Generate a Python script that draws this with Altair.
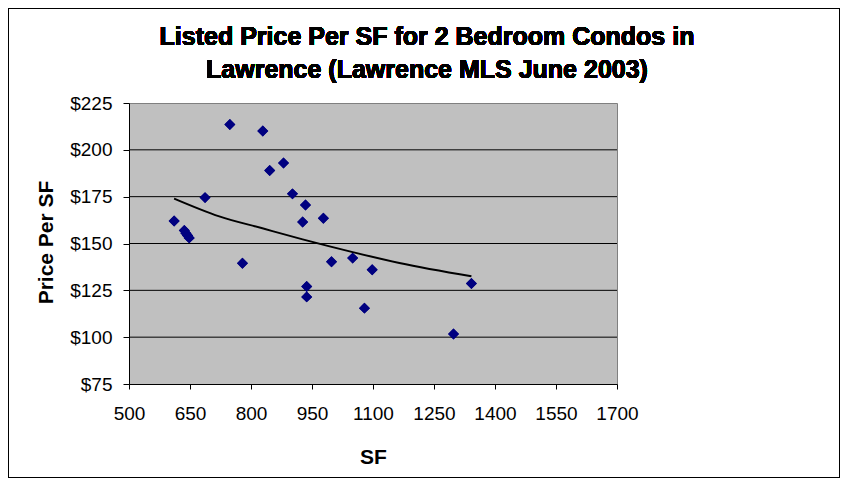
import altair as alt
import pandas as pd

# ---- data ----
sf = [611, 636, 640, 644, 648, 687, 748, 779, 829, 846, 880, 902, 934, 927,
      937, 937, 978, 998, 1050, 1079, 1098, 1298, 1342]
price = [162.0, 157.0, 155.5, 154.3, 153.0, 174.5, 213.5, 139.5, 210.0, 189.0,
         193.0, 176.5, 170.5, 161.5, 127.0, 121.5, 163.5, 140.3, 142.2, 115.5,
         136.0, 101.7, 128.6]

# trendline (as drawn in the reference)
trend_sf = [611, 722, 828, 927, 1050, 1165, 1342]
trend_price = [174.0, 164.5, 158.1, 152.2, 145.4, 139.6, 132.5]

x_ticks = [500, 650, 800, 950, 1100, 1250, 1400, 1550, 1700]
y_ticks = [75, 100, 125, 150, 175, 200, 225]
grid_vals = [100, 125, 150, 175, 200]

title_lines = ["Listed Price Per SF for 2 Bedroom Condos in",
               "Lawrence (Lawrence MLS June 2003)"]
x_title = "SF"
y_title = "Price Per SF"

FONT = "Liberation Sans"
W, H = 488, 281

pts = pd.DataFrame({"SF": sf, "Price": price})
tr = pd.DataFrame({"SF": trend_sf, "Price": trend_price})
gr = pd.DataFrame({"SF": [x_ticks[0]] * len(grid_vals), "Price": grid_vals})

xs = alt.Scale(domain=[x_ticks[0], x_ticks[-1]], nice=False, zero=False)
ys = alt.Scale(domain=[y_ticks[0], y_ticks[-1]], nice=False, zero=False)

x_axis = alt.Axis(values=x_ticks, title=x_title, grid=False, format="d",
                  labelFontSize=19, labelColor="black", labelPadding=15,
                  labelFlush=False, labelOverlap=False,
                  tickColor="black", tickSize=5, domainColor="black",
                  titleFontSize=21, titleFontWeight="bold", titleColor="black",
                  titleY=79, titleBaseline="alphabetic")
y_axis = alt.Axis(values=y_ticks, title=y_title, grid=False, format="$.0f",
                  labelFontSize=19, labelColor="black", labelPadding=11,
                  labelOverlap=False,
                  tickColor="black", tickSize=6, domainColor="black",
                  titleFontSize=21, titleFontWeight="bold", titleColor="black",
                  titleX=-77, titleY=139, titleBaseline="alphabetic")

X = alt.X("SF:Q", scale=xs, axis=x_axis)
Y = alt.Y("Price:Q", scale=ys, axis=y_axis)

grid = alt.Chart(gr).mark_rule(color="black", strokeWidth=1).encode(
    y=Y, x=alt.value(0), x2=alt.value(W)
)

points = alt.Chart(pts).mark_point(shape="diamond", filled=True, size=120,
                                   color="#000080", opacity=1).encode(
    x=X, y=Y
)

trend = alt.Chart(tr).mark_line(color="black", strokeWidth=2,
                                interpolate="monotone").encode(
    x=X, y=Y
)

t1 = alt.Chart(pts).mark_text(text=title_lines[0], fontSize=25, fontWeight="bold",
                              align="center", baseline="alphabetic",
                              color="black").encode(
    x=alt.value(298), y=alt.value(-58)
)
t2 = alt.Chart(pts).mark_text(text=title_lines[1], fontSize=25, fontWeight="bold",
                              align="center", baseline="alphabetic",
                              color="black").encode(
    x=alt.value(298), y=alt.value(-25)
)

border = alt.Chart(pts).mark_rect(fillOpacity=0, stroke="black",
                                  strokeWidth=1).encode(
    x=alt.value(-120.5), x2=alt.value(710.5),
    y=alt.value(-94.5), y2=alt.value(374.5)
)

chart = alt.layer(points, grid, trend, points, t1, t2, border).properties(
    width=W, height=H,
    padding={"left": 121, "top": 95, "right": 223, "bottom": 94},
    autosize=alt.AutoSizeParams(type="none"),
    background="white",
).configure(font=FONT).configure_view(
    fill="#C0C0C0", stroke="#808080", strokeWidth=1
)

chart.save("out.html", embed_options={"renderer": "svg", "actions": False})
